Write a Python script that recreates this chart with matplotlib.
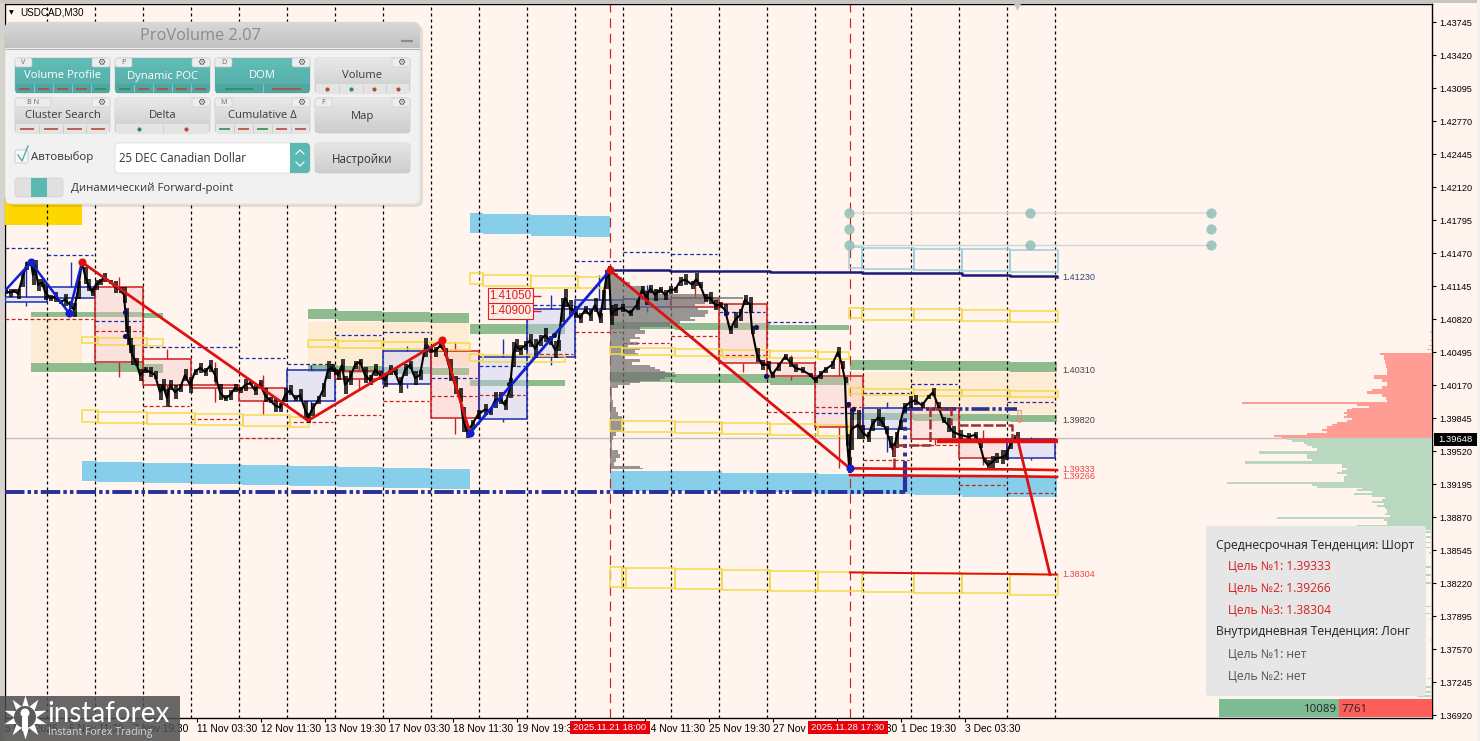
import numpy as np
import matplotlib
matplotlib.use('Agg')
import matplotlib.pyplot as plt
from matplotlib.patches import FancyBboxPatch, Rectangle, Circle
from matplotlib.colors import LinearSegmentedColormap, to_rgba

BG = '#FFF5EE'
BLUE_BAND = '#87CEEB'
GREEN_BAND = '#8FBC8F'
PEACH = '#FDEBD3'
YELLOW = '#F5D94A'
CYAN_BOX = '#9CCFDF'
RED = '#E01010'
BOX_RED = '#CC2020'
BOX_BLUE = '#1C2CB0'
NAVY = '#1A1A78'
DOTLINE = '#28309A'
UI_FONT = ['Open Sans', 'DejaVu Sans']
MT_FONT = ['Liberation Sans', 'DejaVu Sans']

# price ticks, time ticks
price_ticks = [1.43745, 1.43420, 1.43095, 1.42770, 1.42445, 1.42120, 1.41795, 1.41470, 1.41145, 1.40820, 1.40495,
               1.40170, 1.39845, 1.39520, 1.39195, 1.38870, 1.38545, 1.38220, 1.37895, 1.37570, 1.37245, 1.36920]
time_bars = [5, 69, 133, 197, 261, 325, 389, 453, 517, 581, 645, 709, 773, 837, 901, 965]
time_labels = ['5 Nov 2025', '6 Nov 11:30', '7 Nov 19:30', '11 Nov 03:30', '12 Nov 11:30', '13 Nov 19:30',
               '17 Nov 03:30', '18 Nov 11:30', '19 Nov 19:30', '21 Nov 03:30', '24 Nov 11:30', '25 Nov 19:30',
               '27 Nov 03:30', '28 Nov 11:30', '1 Dec 19:30', '3 Dec 03:30']
day_grid = [46.7, 94.7, 142.7, 190.7, 238.7, 286.7, 334.7, 382.7, 430.7, 478.7, 526.7, 574.7, 622.7, 670.7, 718.7,
            766.7, 814.7, 862.7, 910.7, 958.7, 1006.7, 1054.7]
session_lines = [610, 850]
last_price = 1.39648

# M30 close
bars = [5, 10, 14, 18, 22, 26, 31, 33, 35, 38, 42, 45, 50, 55, 60, 65, 70, 74, 78, 82, 85, 88, 92, 96, 100, 104, 110,
        115, 120, 124, 126, 128, 130, 132, 136, 140, 145, 150, 155, 160, 163, 167, 170, 175, 180, 185, 190, 195, 200,
        205, 210, 215, 220, 225, 230, 235, 240, 245, 250, 255, 260, 265, 270, 275, 280, 285, 290, 295, 300, 305, 308,
        312, 318, 323, 328, 332, 335, 338, 342, 345, 350, 355, 360, 365, 370, 375, 380, 385, 390, 395, 400, 405, 410,
        415, 420, 425, 430, 435, 440, 445, 450, 455, 460, 463, 467, 472, 478, 485, 490, 495, 500, 505, 510, 513, 516,
        520, 525, 530, 535, 540, 545, 550, 555, 558, 562, 565, 570, 575, 580, 585, 590, 595, 600, 603, 606, 609, 611,
        615, 622, 630, 637, 642, 646, 650, 655, 660, 665, 670, 675, 680, 685, 692, 696, 700, 705, 710, 715, 720, 725,
        730, 735, 740, 745, 750, 752, 757, 762, 768, 772, 778, 785, 790, 795, 802, 810, 815, 820, 825, 832, 838, 842,
        845, 847, 849, 851, 858, 862, 868, 872, 878, 882, 886, 890, 893, 896, 900, 904, 910, 915, 922, 928, 933, 938,
        943, 948, 953, 960, 968, 975, 980, 984, 988, 992, 996, 1002, 1006, 1010, 1015, 1017]
close = [1.4110, 1.4108, 1.4110, 1.4107, 1.4121, 1.4134, 1.4138, 1.4125, 1.4135, 1.4116, 1.4118, 1.4109, 1.4103,
         1.4104, 1.4099, 1.4101, 1.4096, 1.4091, 1.4111, 1.4138, 1.4125, 1.4116, 1.4109, 1.4116, 1.4119, 1.4123,
         1.4119, 1.4114, 1.4111, 1.4106, 1.4081, 1.4066, 1.4056, 1.4047, 1.4040, 1.4027, 1.4032, 1.4030, 1.4027,
         1.4010, 1.4017, 1.4004, 1.4017, 1.4010, 1.4014, 1.4027, 1.4017, 1.4030, 1.4034, 1.4030, 1.4036, 1.4027,
         1.4010, 1.4004, 1.4007, 1.4014, 1.4012, 1.4017, 1.4019, 1.4012, 1.4018, 1.4007, 1.4002, 1.3997, 1.3995,
         1.4007, 1.4012, 1.4004, 1.4007, 1.3993, 1.3985, 1.3993, 1.4002, 1.4012, 1.4032, 1.4034, 1.4030, 1.4027,
         1.4037, 1.4017, 1.4024, 1.4037, 1.4040, 1.4027, 1.4022, 1.4032, 1.4027, 1.4022, 1.4032, 1.4030, 1.4017,
         1.4032, 1.4037, 1.4024, 1.4027, 1.4054, 1.4052, 1.4050, 1.4056, 1.4050, 1.4032, 1.4017, 1.4007, 1.3983,
         1.3971, 1.3978, 1.3988, 1.3993, 1.3991, 1.4002, 1.4004, 1.3997, 1.4014, 1.4047, 1.4056, 1.4052, 1.4056,
         1.4061, 1.4053, 1.4061, 1.4066, 1.4061, 1.4052, 1.4056, 1.4091, 1.4103, 1.4093, 1.4089, 1.4083, 1.4091,
         1.4086, 1.4096, 1.4083, 1.4101, 1.4121, 1.4130, 1.4086, 1.4091, 1.4093, 1.4088, 1.4096, 1.4111, 1.4103,
         1.4112, 1.4106, 1.4111, 1.4106, 1.4111, 1.4111, 1.4119, 1.4121, 1.4116, 1.4121, 1.4116, 1.4103, 1.4103,
         1.4096, 1.4096, 1.4091, 1.4071, 1.4081, 1.4086, 1.4101, 1.4096, 1.4071, 1.4047, 1.4037, 1.4037, 1.4027,
         1.4035, 1.4045, 1.4040, 1.4034, 1.4032, 1.4027, 1.4022, 1.4027, 1.4032, 1.4037, 1.4050, 1.4037, 1.4022,
         1.3963, 1.3938, 1.3973, 1.3978, 1.3971, 1.3966, 1.3978, 1.3985, 1.3981, 1.3973, 1.3961, 1.3953, 1.3963,
         1.3978, 1.3995, 1.4000, 1.4002, 1.3997, 1.4005, 1.4010, 1.3997, 1.3983, 1.3978, 1.3971, 1.3968, 1.3966,
         1.3968, 1.3958, 1.3943, 1.3938, 1.3941, 1.3945, 1.3946, 1.3948, 1.3958, 1.3965, 1.3966]
# half range of each bar, in pips
bar_span = [3, 4, 2, 5, 7, 4, 3, 9, 5, 6, 4, 8, 3, 5, 2, 6, 4, 7, 9, 3, 8, 6, 4, 5, 3, 4, 2, 6, 3, 8, 12, 9, 7, 10, 4,
            6, 3, 5, 4, 8, 6, 9, 5, 7, 4, 6, 8, 3, 5, 4, 6, 7, 8, 3, 5, 4, 3, 6, 2, 5, 4, 7, 3, 6, 4, 7, 5, 3, 6, 8, 5,
            6, 4, 7, 9, 4, 3, 5, 6, 9, 7, 4, 3, 8, 5, 6, 4, 7, 5, 3, 8, 6, 4, 7, 5, 9, 3, 5, 2, 4, 11, 9, 7, 12, 6, 5,
            4, 5, 3, 8, 6, 5, 10, 12, 6, 5, 4, 6, 9, 5, 7, 4, 8, 5, 12, 9, 8, 6, 5, 4, 6, 7, 5, 10, 9, 4, 10, 6, 4, 3,
            5, 4, 7, 4, 6, 3, 5, 4, 3, 4, 5, 4, 6, 3, 4, 6, 5, 3, 6, 4, 8, 6, 5, 8, 4, 7, 5, 4, 3, 4, 3, 5, 4, 3, 2, 3,
            4, 3, 4, 5, 4, 3, 6, 8, 20, 14, 7, 5, 6, 8, 5, 4, 6, 7, 8, 5, 4, 6, 5, 3, 2, 4, 3, 3, 7, 6, 5, 4, 3, 3, 2,
            5, 6, 5, 7, 5, 4, 3, 5, 3, 1]

# daily candles
day_start = [5, 46.7, 94.7, 142.7, 190.7, 238.7, 286.7, 334.7, 382.7, 430.7, 478.7, 526.7, 574.7, 622.7, 670.7, 718.7,
             766.7, 814.7, 862.7, 910.7, 958.7, 1006.7]
day_end = [46.7, 94.7, 142.7, 190.7, 238.7, 286.7, 334.7, 382.7, 430.7, 478.7, 526.7, 574.7, 622.7, 670.7, 718.7,
           766.7, 814.7, 862.7, 910.7, 958.7, 1006.7, 1054.7]
day_open = [1.4099, 1.4103, 1.4114, 1.4043, 1.4017, 1.4014, 1.4001, 1.4031, 1.4018, 1.4051, 1.3984, 1.4045, 1.4092,
            1.4094, 1.4103, 1.4097, 1.4039, 1.4026, 1.3974, 1.3994, 1.3964, 1.3945]
day_close = [1.4104, 1.4114, 1.4040, 1.4017, 1.4014, 1.4001, 1.4032, 1.4023, 1.4051, 1.3985, 1.4045, 1.4092, 1.4101,
             1.4102, 1.4094, 1.4039, 1.4026, 1.3976, 1.3994, 1.3964, 1.3945, 1.3964]
day_high = [1.4139, 1.4138, 1.4123, 1.4053, 1.4040, 1.4027, 1.4037, 1.4042, 1.4056, 1.4059, 1.4062, 1.4106, 1.4125,
            1.4116, 1.4117, 1.4101, 1.4047, 1.4047, 1.4000, 1.4002, 1.3973, 1.3966]
day_low = [1.4095, 1.4103, 1.4025, 1.4000, 1.4000, 1.3988, 1.3991, 1.4012, 1.4014, 1.3969, 1.3981, 1.4037, 1.4081,
           1.4089, 1.4094, 1.4030, 1.4022, 1.3935, 1.3951, 1.3958, 1.3938, 1.3943]
day_res = [1.4152, 1.4145, 1.4080, 1.4055, 1.4055, 1.4044, 1.4038, 1.4066, 1.4069, 1.4024, 1.4036, 1.4096, 1.4139,
           1.4148, 1.4146, 1.4089, 1.4079, 1.3990, 1.4009, 1.4018, np.nan, 1.4000]
day_sup = [1.4082, 1.4082, 1.4070, 1.3996, 1.3984, 1.3965, 1.3981, 1.3988, 1.4001, 1.4006, 1.4007, 1.4048, 1.4069,
           1.4058, 1.4065, 1.4047, 1.3991, 1.3995, 1.3943, 1.3958, 1.3919, 1.3911]

# zigzag
zig_blue1_x = [5, 31, 69, 82]
zig_blue1_y = [1.4110, 1.4138, 1.4088, 1.4138]
zig_red_x = [82, 308, 442, 470]
zig_red_y = [1.4138, 1.3982, 1.4061, 1.3970]
zig_blue2_x = [470, 610]
zig_blue2_y = [1.3970, 1.4130]
zig_red2_x = [610, 850]
zig_red2_y = [1.4130, 1.3935]
zig_red3_x = [1017, 1050]
zig_red3_y = [1.3966, 1.38304]
dots_blue_x = [31, 69, 470, 850]
dots_blue_y = [1.4138, 1.4088, 1.3970, 1.3935]
dots_red_x = [82, 442, 610]
dots_red_y = [1.4138, 1.4061, 1.4130]
dots_navy_x = [125, 125, 426, 509, 554, 726, 756, 766, 848, 853]
dots_navy_y = [1.4089, 1.4065, 1.4056, 1.4018, 1.4066, 1.4088, 1.4074, 1.4026, 1.3998, 1.3993]

# zones: edges, upper, lower
blue_a = ([82, 97, 143, 193, 242, 290, 338, 383, 430, 470],
          [1.3942, 1.3941, 1.3940, 1.3939, 1.3938, 1.3937, 1.3936, 1.3935, 1.3934],
          [1.3923, 1.3922, 1.3921, 1.3920, 1.3919, 1.3918, 1.3917, 1.3916, 1.3915])
blue_b = ([470, 483, 531, 578, 610], [1.4187, 1.4186, 1.4185, 1.4184], [1.4167, 1.4166, 1.4164, 1.4163])
blue_c = ([610, 722, 818, 914, 962, 1057], [1.3932, 1.3930, 1.3929, 1.3928, 1.3927],
          [1.3913, 1.3912, 1.3910, 1.3909, 1.3907])
green_zones = [
    ([31, 82, 143, 163], [1.4089, 1.4089, 1.4088], [1.4084, 1.4084, 1.4083]),
    ([31, 82, 143, 163], [1.4039, 1.4039, 1.4038], [1.4030, 1.4030, 1.4029]),
    ([308, 338, 382, 430, 469], [1.4092, 1.4090, 1.4089, 1.4088], [1.4082, 1.4080, 1.4079, 1.4078]),
    ([308, 338, 382, 430, 469], [1.4037, 1.4036, 1.4035, 1.4034], [1.4030, 1.4029, 1.4028, 1.4027]),
    ([470, 565], [1.4077], [1.4067]),
    ([470, 565], [1.4022], [1.4016]),
    ([610, 675, 770, 849], [1.4079, 1.4078, 1.4076], [1.4072, 1.4071, 1.4071]),
    ([610, 675, 770, 849], [1.4030, 1.4028, 1.4025], [1.4020, 1.4019, 1.4017]),
    ([850, 914, 962, 1010, 1057], [1.4042, 1.4041, 1.4041, 1.4040], [1.4032, 1.4031, 1.4031, 1.4030]),
    ([850, 914, 962, 1010, 1057], [1.3990, 1.3989, 1.3989, 1.3988], [1.3983, 1.3982, 1.3982, 1.3981]),
]
peach_zones = [
    ([31, 82], [1.4083], [1.4039]),
    ([308, 469], [1.4079], [1.4036]),
    ([850, 1057], [1.4030], [1.3989]),
]
yellow_boxes = [
    ([82, 98, 147, 163], [1.4064, 1.4063, 1.4062], [1.4058, 1.4057, 1.4056]),
    ([82, 98, 147, 195, 243, 290, 309], [1.3992, 1.3991, 1.3990, 1.3989, 1.3988, 1.3986],
     [1.3981, 1.3980, 1.3979, 1.3978, 1.3977, 1.3976]),
    ([308, 338, 382, 430, 470], [1.4061, 1.4060, 1.4059, 1.4058], [1.4055, 1.4054, 1.4053, 1.4052]),
    ([470, 483, 531, 578, 610], [1.4127, 1.4125, 1.4124, 1.4123], [1.4117, 1.4115, 1.4113, 1.4113]),
    ([470, 483, 531, 565], [1.4048, 1.4047, 1.4046], [1.4041, 1.4040, 1.4040]),
    ([610, 622, 675, 722, 770, 818, 849], [1.4055, 1.4054, 1.4053, 1.4052, 1.4051, 1.4050],
     [1.4048, 1.4047, 1.4046, 1.4045, 1.4044, 1.4043]),
    ([610, 622, 675, 722, 770, 818, 849], [1.3983, 1.3982, 1.3981, 1.3980, 1.3979, 1.3978],
     [1.3972, 1.3971, 1.3970, 1.3969, 1.3968, 1.3967]),
    ([610, 622, 626, 675, 722, 770, 818, 862, 914, 962, 1010, 1058],
     [1.3838, 1.3837, 1.3837, 1.3836, 1.3835, 1.3834, 1.3833, 1.3832, 1.3832, 1.3831, 1.3830],
     [1.3818, 1.3817, 1.3817, 1.3816, 1.3815, 1.3814, 1.3814, 1.3813, 1.3812, 1.3812, 1.3810]),
    ([849, 862, 914, 962, 1010, 1058], [1.4093, 1.4092, 1.4092, 1.4091, 1.4090], [1.4083, 1.4081, 1.4081, 1.4080, 1.4079]),
    ([849, 862, 914, 962, 1010, 1058], [1.4014, 1.4013, 1.4012, 1.4012, 1.4011], [1.4008, 1.4007, 1.4006, 1.4006, 1.4005]),
]
cyan_boxes = ([849, 862, 914, 962, 1010, 1058], [1.4153, 1.4152, 1.4151, 1.4151, 1.4150],
              [1.4132, 1.4131, 1.4130, 1.4129, 1.4128])

# levels
navy_x = [610, 670, 770, 862, 962, 1010, 1057]
navy_y = [1.4130, 1.4129, 1.4128, 1.4127, 1.4125, 1.4124, 1.41230]
target1_x = [850, 914, 1010, 1057]
target1_y = [1.39350, 1.39345, 1.39340, 1.39333]
target2_x = [850, 914, 1010, 1057]
target2_y = [1.39283, 1.39278, 1.39272, 1.39266]
target3_x = [850, 914, 1010, 1057]
target3_y = [1.38325, 1.38318, 1.38310, 1.38304]
level_text = [('1.41230', 1.41230, '#334477'), ('1.40310', 1.40310, '#444444'), ('1.39820', 1.39820, '#444444'),
              ('1.39333', 1.39340, '#EE4444'), ('1.39266', 1.39266, '#EE4444'), ('1.38304', 1.38304, '#EE4444')]
forward_level = 1.3912
forward_high = 1.3993
poc_level = 1.3962
brown_x = [894, 894, 930, 930, 951, 951]
brown_y = [1.3935, 1.3958, 1.3958, 1.3993, 1.3993, 1.3978]
brown2_x = [958, 1012, 1012]
brown2_y = [1.3978, 1.3978, 1.3964]

# volume profile at session start
vp_price = [1.4129, 1.4125, 1.4121, 1.4117, 1.4113, 1.4109, 1.4105, 1.4103, 1.4101, 1.4098, 1.4095, 1.4092, 1.4089,
            1.4086, 1.4083, 1.4081, 1.4079, 1.4076, 1.4073, 1.4069, 1.4066, 1.4063, 1.4061, 1.4058, 1.4055, 1.4053,
            1.4050, 1.4047, 1.4044, 1.4041, 1.4038, 1.4036, 1.4034, 1.4032, 1.4030, 1.4028, 1.4026, 1.4024, 1.4022,
            1.4020, 1.4018, 1.4016, 1.4012, 1.4007, 1.3997, 1.3993, 1.3989, 1.3985, 1.3981, 1.3977, 1.3973, 1.3969,
            1.3965, 1.3961, 1.3955, 1.3951, 1.3947, 1.3943, 1.3939, 1.3936, 1.3934]
vp_size = [4, 8, 12, 20, 34, 50, 100, 133, 110, 95, 85, 88, 98, 95, 80, 85, 70, 60, 30, 35, 25, 30, 20, 28, 18, 30, 25,
           28, 15, 30, 22, 40, 45, 50, 55, 60, 66, 55, 50, 30, 20, 8, 2, 2, 3, 6, 8, 12, 14, 12, 14, 6, 3, 2, 2, 8, 10,
           6, 4, 30, 33]

# DOM at the right side
ask_price = [1.4049, 1.4044, 1.4040, 1.4036, 1.4032, 1.4028, 1.4025, 1.4022, 1.4018, 1.4014, 1.4012, 1.4010, 1.4006,
             1.4004, 1.4001, 1.3999, 1.3997, 1.3995, 1.3994, 1.3992, 1.3990, 1.3988, 1.3986, 1.3984, 1.3982, 1.3980,
             1.3978, 1.3975, 1.3973, 1.3971, 1.3969, 1.3967, 1.39648]
ask_size = [52, 48, 47, 46, 45, 45, 58, 50, 45, 50, 60, 65, 50, 46, 45, 190, 75, 63, 80, 85, 88, 85, 88, 80, 85, 95,
            100, 105, 110, 105, 125, 158, 150]
bid_price = [1.39648, 1.3962, 1.3960, 1.3958, 1.3956, 1.3954, 1.3951, 1.3948, 1.3945, 1.3943, 1.3941, 1.3938, 1.3936,
             1.3934, 1.3932, 1.3930, 1.3928, 1.3926, 1.3923, 1.3921, 1.3919, 1.3917, 1.3915, 1.3914, 1.3912, 1.3910,
             1.3908, 1.3906, 1.3904, 1.3902, 1.3900, 1.3898, 1.3896, 1.3894, 1.3892, 1.3890, 1.3888, 1.3886, 1.3884,
             1.3882, 1.3880, 1.3878, 1.3876, 1.3874]
bid_size = [145, 140, 128, 125, 120, 115, 173, 125, 125, 120, 187, 90, 90, 85, 90, 95, 85, 88, 88, 205, 120, 115, 70,
            75, 60, 78, 60, 47, 50, 60, 48, 55, 47, 45, 45, 47, 42, 155, 48, 45, 45, 75, 45, 48]
sparse_ask_price = [1.4069, 1.4061, 1.4056, 1.4052]
sparse_ask_size = [2, 2, 3, 5]
sparse_bid_price = [1.3872, 1.3867, 1.3862, 1.3857, 1.3852, 1.3838, 1.3830, 1.3822, 1.3799, 1.3792, 1.3787, 1.3766,
                    1.3728, 1.3720, 1.3715, 1.3711]
sparse_bid_size = [12, 8, 6, 6, 3, 10, 8, 6, 32, 20, 2, 2, 4, 214, 14, 15]
buy_volume = 10089
sell_volume = 7761

fig = plt.figure(figsize=(14.8, 7.41), dpi=100, facecolor=BG)
ax = fig.add_axes([5 / 1480, 23 / 741, 1427 / 1480, 714 / 741], facecolor=BG)
ax.set_xlim(5, 1432)
ax.set_ylim(1.36891, 1.43924)


def zone(spec, color, z=1):
    edges, upper, lower = spec
    edges = np.array(edges, dtype=float)
    upper = np.array(upper)
    ax.bar(edges[:-1], upper - np.array(lower), bottom=lower, width=np.diff(edges), align='edge',
           color=color, linewidth=0, zorder=z)


def outline(spec, color):
    edges, upper, lower = spec
    edges = np.array(edges, dtype=float)
    upper = np.array(upper)
    ax.bar(edges[:-1], upper - np.array(lower), bottom=lower, width=np.diff(edges), align='edge',
           facecolor='none', edgecolor=color, linewidth=1.1, zorder=4)


for z in peach_zones:
    zone(z, PEACH)
for z in green_zones:
    zone(z, GREEN_BAND)
zone(blue_a, BLUE_BAND)
zone(blue_b, BLUE_BAND)
zone(blue_c, BLUE_BAND)

ax.vlines(day_grid, 1.36891, 1.43924, color='black', linewidth=0.9, linestyles=(0, (2.4, 2.4)), zorder=2)
ax.vlines(session_lines, 1.36891, 1.43924, color='#CC2222', linewidth=0.85, linestyles=(0, (8, 5)), zorder=2)
ax.axhline(last_price, color='#C4BEB8', linewidth=1.0, zorder=2)

# control lines of the forward grid
ax.hlines(1.4187, 849, 1211, color='#E4DED6', linewidth=1.2, zorder=2)
ax.hlines(1.4155, 849, 1211, color='#CCD8D4', linewidth=1.0, zorder=2)
ax.scatter([849, 849, 849, 1030, 1030, 1211, 1211, 1211], [1.4187, 1.4171, 1.4155, 1.4187, 1.4155, 1.4187, 1.4171, 1.4155],
           s=55, color='#8FBFB8', alpha=0.85, zorder=5, linewidths=0)

# candles
for i in range(len(day_start)):
    up = day_close[i] > day_open[i]
    col = BOX_BLUE if up else BOX_RED
    fill = to_rgba('#C4CCFA', 0.42) if up else to_rgba('#F8BFC0', 0.34)
    top = max(day_open[i], day_close[i])
    bot = min(day_open[i], day_close[i])
    mid = (day_start[i] + day_end[i]) / 2
    ax.bar(day_start[i], top - bot, bottom=bot, width=day_end[i] - day_start[i], align='edge',
           facecolor=fill, edgecolor=col, linewidth=1.1, zorder=3)
    ax.vlines(mid, top, day_high[i], color=col, linewidth=1.0, zorder=3)
    ax.vlines(mid, day_low[i], bot, color=col, linewidth=1.0, zorder=3)
    ax.hlines(day_res[i], day_start[i], day_end[i] - 2, color=BOX_BLUE, linewidth=0.9, linestyles=(0, (3, 2)), zorder=3)
    ax.hlines(day_sup[i], day_start[i], day_end[i] - 2, color=BOX_RED, linewidth=0.9, linestyles=(0, (3, 2)), zorder=3)

# profile
ax.fill_betweenx(vp_price, 610, 610 + np.array(vp_size), step='mid', color='#707070', alpha=0.72, linewidth=0, zorder=3.5)

for spec in yellow_boxes:
    outline(spec, YELLOW)
outline(cyan_boxes, CYAN_BOX)

# navy levels
ax.step(navy_x, navy_y, where='post', color=NAVY, linewidth=1.8, zorder=5)
dash = (0, (5, 0.8, 0.9, 0.8, 0.9, 0.8))
ax.hlines(forward_level, 5, 905, color=DOTLINE, linewidth=2.8, linestyles=dash, zorder=5)
ax.vlines(905, forward_level, 1.3938, color=DOTLINE, linewidth=3, zorder=5)
ax.vlines(905, 1.3938, forward_high, color=DOTLINE, linewidth=2.8, linestyles=(0, (1, 1.2)), zorder=5)
ax.hlines(forward_high, 905, 1017, color=DOTLINE, linewidth=2.6, linestyles=dash, zorder=5)

# price
ax.plot(bars, close, color='black', linewidth=1.5, solid_joinstyle='miter', zorder=6)
for b, c, s in zip(bars, close, bar_span):
    ax.vlines([b, b + 1.7], c - s * 0.0001, c + s * 0.0001, color='black', linewidth=1.1, zorder=6)

# targets
ax.plot(target1_x, target1_y, color=RED, linewidth=1.9, zorder=6)
ax.plot(target2_x, target2_y, color=RED, linewidth=1.9, zorder=6)
ax.plot(target3_x, target3_y, color=RED, linewidth=1.4, zorder=6)
ax.hlines(poc_level, 937, 1058, color=RED, linewidth=3.2, zorder=6)
ax.plot(brown_x, brown_y, color='#A03030', linewidth=1.8, linestyle=(0, (4, 1)), zorder=6)
ax.plot(brown2_x, brown2_y, color='#A03030', linewidth=1.8, linestyle=(0, (4, 1)), zorder=6)

# zigzag
ax.plot(zig_blue1_x, zig_blue1_y, color='#1020D0', linewidth=1.8, zorder=7)
ax.plot(zig_blue2_x, zig_blue2_y, color='#1020D0', linewidth=2.0, zorder=7)
ax.plot(zig_red_x, zig_red_y, color=RED, linewidth=2.0, zorder=7)
ax.plot(zig_red2_x, zig_red2_y, color=RED, linewidth=2.0, zorder=7)
ax.plot(zig_red3_x, zig_red3_y, color=RED, linewidth=2.0, zorder=7)
ax.scatter(dots_navy_x, dots_navy_y, s=14, color='#101060', zorder=7, linewidths=0)
ax.scatter(dots_blue_x, dots_blue_y, s=34, color='#1020D0', zorder=8, linewidths=0)
ax.scatter(dots_red_x, dots_red_y, s=34, color=RED, zorder=8, linewidths=0)

# order-flow arrow
ax.text(1019, 1.3985, '⇩', color='#F08070', fontsize=13, ha='center', va='center', zorder=8, family='DejaVu Sans')

for txt, p, c in level_text:
    ax.text(1062, p, txt, color=c, fontsize=6.6, va='center', ha='left', zorder=8, family=MT_FONT)

for txt, p in [('1.41050', 1.41050), ('1.40900', 1.40900)]:
    ax.text(510.5, p, txt, color='#DD2020', fontsize=8.4, ha='center', va='center', zorder=9, family=MT_FONT,
            bbox=dict(boxstyle='square,pad=0.15', fc='#FFEDE8', ec='#DD2020', lw=0.8))
    ax.hlines(p, 532, 541, color='#DD2020', linewidth=1.0, zorder=8)

# DOM
ax.fill_betweenx(ask_price, 1432 - np.array(ask_size), 1432, step='mid', color='#FF9C94', linewidth=0, zorder=3)
ax.fill_betweenx(bid_price, 1432 - np.array(bid_size), 1432, step='mid', color='#BAD8BF', linewidth=0, zorder=3)
ax.barh(sparse_ask_price, sparse_ask_size, left=1432 - np.array(sparse_ask_size), height=0.00018, color='#FF9C94', linewidth=0, zorder=3)
ax.barh(sparse_bid_price, sparse_bid_size, left=1432 - np.array(sparse_bid_size), height=0.00018, color='#BAD8BF', linewidth=0, zorder=3)

ax.yaxis.tick_right()
ax.set_yticks(price_ticks)
ax.set_yticklabels(['%.5f' % p for p in price_ticks], fontsize=6.6, family=MT_FONT)
ax.set_xticks(time_bars)
ax.set_xticklabels(time_labels, fontsize=7.4, ha='left', family=MT_FONT)
ax.tick_params(axis='y', length=3, width=0.8, pad=2.5)
ax.tick_params(axis='x', length=3, width=0.8, pad=1.5)
for s in ax.spines.values():
    s.set_linewidth(1.0)

# ---- interface layer, pixel coordinates
ui = fig.add_axes([0, 0, 1, 1], zorder=10)
ui.set_xlim(0, 1480)
ui.set_ylim(741, 0)
ui.axis('off')
ui.patch.set_alpha(0)


def vgrad(patch, x0, y0, x1, y1, c1, c2, z):
    cm = LinearSegmentedColormap.from_list('g', [c1, c2])
    im = ui.imshow(np.linspace(0, 1, 32).reshape(-1, 1), extent=[x0, x1, y1, y0], cmap=cm, aspect='auto', zorder=z)
    im.set_clip_path(patch)
    ui.set_xlim(0, 1480)
    ui.set_ylim(741, 0)


def rbox(x0, y0, x1, y1, r, fc='none', ec='none', lw=0, z=20, alpha=None):
    p = FancyBboxPatch((x0 + r, y0 + r), x1 - x0 - 2 * r, y1 - y0 - 2 * r, boxstyle='round,pad=%g,rounding_size=%g' % (r, r),
                       fc=fc, ec=ec, lw=lw, zorder=z, alpha=alpha)
    ui.add_patch(p)
    return p


# window edge
ui.add_patch(Rectangle((0, 0), 3.5, 741, fc='#D6D2CE', ec='none', zorder=1))
ui.add_patch(Rectangle((0, 0), 1480, 3, fc='#C8C6C2', ec='none', zorder=1))
ui.add_patch(Rectangle((1477, 0), 3, 741, fc='#F4F2F0', ec='none', zorder=1))
ui.text(11, 12.5, '▼', fontsize=4.5, ha='center', va='center', zorder=5, family='DejaVu Sans')
ui.text(20, 12.5, 'USDCAD,M30', fontsize=7.1, ha='left', va='center', zorder=5, family=MT_FONT)
ui.scatter([1017], [6], marker='v', s=40, color='#C8C4C0', zorder=5, linewidths=0)

# last price, time boxes
ui.add_patch(Rectangle((1434, 432.5), 43, 13, fc='black', ec='none', zorder=5))
ui.text(1455.5, 439, '%.5f' % last_price, color='white', fontsize=6.8, ha='center', va='center', zorder=6, family=MT_FONT)
for x0, txt in [(570, '2025.11.21 18:00'), (808, '2025.11.28 17:30')]:
    ui.add_patch(Rectangle((x0, 721), 80, 13, fc='#E8000B', ec='none', zorder=5))
    ui.text(x0 + 40, 727.5, txt, color='white', fontsize=6.8, ha='center', va='center', zorder=6, family=MT_FONT)

# yellow block behind the panel
ui.add_patch(Rectangle((5, 200), 77, 25, fc='#FFD700', ec='none', zorder=3))
ui.vlines(46.7, 204, 225, color='black', linewidth=0.9, linestyles=(0, (2.4, 2.4)), zorder=4)

# main panel
rbox(8, 25, 423, 207, 7, fc='#000000', alpha=0.1, z=18)
panel = rbox(5, 22, 420, 204, 7, fc='#F1F1F1', ec='#E0E0E0', lw=0.5, z=19)
vgrad(panel, 5, 22, 420, 48.5, '#D9D9D9', '#C2C2C2', 20)
ui.hlines(48.5, 5, 420, color='#B4B4B4', linewidth=0.8, zorder=21)
ui.text(201, 36, 'ProVolume 2.07', fontsize=11.8, color='#8C8C8C', ha='center', va='center', zorder=22, family=UI_FONT)
ui.hlines(41, 401, 413, color='#8C8C8C', linewidth=1.6, zorder=22)

TEAL = '#5CB8B2'
buttons = [
    (15, 58, 'Volume Profile', 'V', True, 'd', 'rrrrg'),
    (115, 58, 'Dynamic POC', 'P', True, 'd', 'grrrr'),
    (215, 58, 'DOM', 'D', True, 'd', 'gr'),
    (315, 58, 'Volume', '', False, 'o', 'rgrr'),
    (15, 98, 'Cluster Search', 'B N', False, 'd', 'rrrr'),
    (115, 98, 'Delta', '', False, 'o', 'gr'),
    (215, 98, 'Cumulative Δ', 'M', False, 'd', 'grgrr'),
    (315, 98, 'Map', 'F', False, '', ''),
]
for x0, y0, label, key, active, kind, marks in buttons:
    w = 95
    h = 35
    p = rbox(x0, y0, x0 + w, y0 + h, 4, fc='#DDD', ec='#C8C8C8', lw=0.5, z=21)
    if active:
        vgrad(p, x0, y0, x0 + w, y0 + h, '#62BDB7', '#53ABA6', 22)
    else:
        vgrad(p, x0, y0, x0 + w, y0 + h, '#E8E8E8', '#CDCDCD', 22)
    tc = 'white' if active else '#3C3C3C'
    ui.text(x0 + w / 2, y0 + 18, label, fontsize=8.1, color=tc, ha='center', va='center', zorder=25, family=UI_FONT)
    if marks:
        seg = w / len(marks)
        ui.add_patch(Rectangle((x0 + 1, y0 + 26), w - 2, 8.5, fc='#4FA5A0' if active else '#E4E4E4', ec='none', zorder=23))
        for k, m in enumerate(marks):
            c = '#2F8F50' if m == 'g' else '#B84A3A'
            cx = x0 + seg * (k + 0.5)
            if kind == 'd':
                ui.hlines(y0 + 31, cx - seg * 0.3, cx + seg * 0.3, color=c, linewidth=1.2, zorder=24)
            else:
                ui.scatter([cx], [y0 + 30.5], s=9, color=c, zorder=24, linewidths=0)
            if k > 0:
                ui.vlines(x0 + seg * k, y0 + 26, y0 + 35, color='#C4C4C4', linewidth=0.5, zorder=24)
    # key tab and gear tab
    if key:
        kw = 17 if len(key) == 1 else 36
        rbox(x0, y0, x0 + kw, y0 + 9, 2, fc='#EDEDED', ec='#C8C8C8', lw=0.4, z=24)
        ui.text(x0 + kw / 2, y0 + 4.7, key, fontsize=5.2, color='#666', ha='center', va='center', zorder=25, family=UI_FONT)
    rbox(x0 + w - 18, y0, x0 + w, y0 + 9, 2, fc='#EDEDED', ec='#C8C8C8', lw=0.4, z=24)
    ui.text(x0 + w - 9, y0 + 4.5, '⚙', fontsize=6.5, color='#555', ha='center', va='center', zorder=25, family='DejaVu Sans')

# second part of the panel
rbox(15, 150, 28, 163, 2, fc='#F8F8F8', ec='#C8C8C8', lw=0.6, z=21)
ui.plot([18, 22, 28], [155, 161, 146], color='#52AFAA', linewidth=1.0, zorder=22)
ui.text(31, 157, 'Автовыбор', fontsize=8.2, color='#333', ha='left', va='center', zorder=22, family=UI_FONT)
combo = rbox(115, 143, 310, 173, 4, fc='white', ec='#D8D8D8', lw=0.5, z=21)
vg = Rectangle((290, 143), 20, 30, fc=TEAL, ec='none', zorder=22)
ui.add_patch(vg)
vg.set_clip_path(combo)
ui.plot([296, 300, 304], [154, 150, 154], color='white', linewidth=0.8, zorder=23)
ui.plot([296, 300, 304], [162, 166, 162], color='white', linewidth=0.8, zorder=23)
ui.text(119, 159, '25 DEC Canadian Dollar', fontsize=8.3, color='#333', ha='left', va='center', zorder=22, family=UI_FONT)
sb = rbox(315, 143, 410, 173, 4, fc='#DDD', ec='#C8C8C8', lw=0.5, z=21)
vgrad(sb, 315, 143, 410, 173, '#E6E6E6', '#CDCDCD', 22)
ui.text(362.5, 159, 'Настройки', fontsize=8.3, color='#333', ha='center', va='center', zorder=25, family=UI_FONT)
tog = rbox(15, 178, 63, 197, 3, fc='#E0E0E0', ec='#D0D0D0', lw=0.5, z=21)
tm = Rectangle((31, 178), 16, 19, fc=TEAL, ec='none', zorder=22)
ui.add_patch(tm)
ui.text(71, 188, 'Динамический Forward-point', fontsize=8.2, color='#333', ha='left', va='center', zorder=22, family=UI_FONT)

# info panel
rbox(1206, 526, 1426, 696, 3, fc='#E6E6E6', z=15)
info = [(1216, 545, 'Среднесрочная Тенденция: Шорт', '#222222'),
        (1228, 566, 'Цель №1: 1.39333', '#D42020'),
        (1228, 588, 'Цель №2: 1.39266', '#D42020'),
        (1228, 610, 'Цель №3: 1.38304', '#D42020'),
        (1216, 632, 'Внутридневная Тенденция: Лонг', '#222222'),
        (1228, 654, 'Цель №1: нет', '#555555'),
        (1228, 676, 'Цель №2: нет', '#555555')]
for x0, y0, txt, c in info:
    ui.text(x0, y0, txt, fontsize=8.7, color=c, ha='left', va='center', zorder=16, family=UI_FONT)

# buy / sell bar
buy_w = 213 * buy_volume / (buy_volume + sell_volume)
sell_w = 213 * sell_volume / (buy_volume + sell_volume)
ui.barh(708, buy_w, left=1219, height=18.5, color='#7DBB92', zorder=15)
ui.barh(708, sell_w, left=1219 + buy_w, height=18.5, color='#FF5E58', zorder=15)
ui.text(1219 + buy_w - 2, 709, str(buy_volume), fontsize=8.2, color='#222', ha='right', va='center', zorder=16, family=UI_FONT)
ui.text(1219 + buy_w + 2, 709, str(sell_volume), fontsize=8.2, color='#222', ha='left', va='center', zorder=16, family=UI_FONT)

# logo
ui.add_patch(Rectangle((0, 696), 180, 45, fc='#4E4E4E', ec='none', alpha=0.85, zorder=30))
ui.scatter([25], [717], marker=(10, 1, 0), s=1000, color='white', zorder=31, linewidths=0)
ui.add_patch(Circle((25, 717), 11, fc='#5A5A5A', ec='none', zorder=32))
ui.add_patch(Circle((25, 713), 4.5, fc='white', ec='none', zorder=33))
ui.add_patch(Rectangle((22, 717), 6, 14, fc='white', ec='none', zorder=33))
ui.text(47, 714, 'instaforex', fontsize=20, color='white', ha='left', va='center', zorder=33, family=['Lato', 'DejaVu Sans'])
ui.text(48, 732, 'Instant Forex Trading', fontsize=7.6, color='#D8D8D8', ha='left', va='center', zorder=33, family=UI_FONT)

plt.savefig('out.png', dpi=100, facecolor=BG)
